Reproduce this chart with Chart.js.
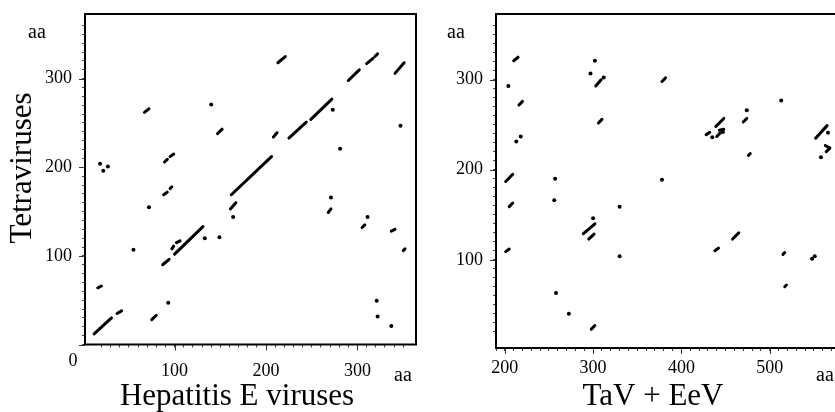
<!DOCTYPE html>
<html>
<head>
<meta charset="utf-8">
<script src="https://cdn.jsdelivr.net/npm/chart.js@4.4.1/dist/chart.umd.min.js"></script>
<style>
  html, body { margin: 0; padding: 0; background: #fff; overflow: hidden; }
  #wrap { position: relative; width: 835px; height: 412px; overflow: hidden; }
  #chart1 { position: absolute; left: 0; top: 0; }
  #chart2 { position: absolute; left: 420px; top: 0; }
</style>
</head>
<body>
<div id="wrap">
  <canvas id="chart1" width="420" height="412"></canvas>
  <canvas id="chart2" width="460" height="412"></canvas>
</div>
<script>
// dot-plot matches: segments are [x1, y1, x2, y2] in aa, dots are [x, y]
const hevSegments = [
    [12, 12, 31, 30], [37, 35, 42, 38], [16, 64, 20, 66], [75, 28, 80, 33],
    [87, 90, 94, 96], [97, 108, 99, 111], [102, 115, 106, 117], [100, 102, 131, 133],
    [161, 153, 167, 160], [162, 169, 206, 212], [208, 234, 212, 239], [225, 233, 244, 251],
    [249, 254, 272, 277], [290, 298, 302, 310], [310, 317, 317, 323], [319, 325, 322, 328],
    [341, 306, 351, 318], [213, 318, 221, 325], [147, 238, 152, 243], [67, 262, 72, 266],
    [89, 206, 92, 209], [95, 212, 99, 215], [88, 169, 92, 172], [95, 176, 97, 178],
    [268, 149, 271, 153], [305, 132, 308, 135], [337, 128, 341, 130], [350, 106, 352, 108]
];
const hevDots = [
    [55, 107], [93, 47], [133, 120], [149, 121], [164, 144], [273, 265], [281, 221],
    [347, 247], [140, 271], [18.5, 204], [22, 196], [27, 201], [72, 155], [271, 166],
    [311, 144], [321, 49.5], [322, 31.5], [337, 21]
];
const tavSegments = [
    [210, 321, 215, 325], [216, 272, 220, 276], [201, 187, 209, 195], [205, 159, 209, 163],
    [201, 109, 205, 112], [298, 23, 302, 27], [289, 129, 302, 140], [295, 123, 301, 128.5],
    [303, 293, 309, 300], [306, 252, 310, 256], [378, 298, 382, 302], [428, 239, 432, 241.5],
    [439, 248, 448, 257], [440, 237, 444, 241], [443, 244, 448, 245], [470, 253, 474, 257],
    [476, 216, 478, 218], [552, 235, 565, 249], [563, 227, 568, 224], [568, 224, 564, 220],
    [438, 110, 442, 113], [458, 123, 465, 130], [515, 106, 517, 108], [517, 70, 519, 72]
];
const tavDots = [
    [204, 293], [213, 231.5], [218, 237], [257, 190], [256, 166], [258, 63], [272.5, 40],
    [300, 146], [330, 159], [330, 104], [302, 321], [297, 307], [312, 302.5], [378, 189],
    [435, 236], [447, 242], [474, 266], [513, 277], [566, 241], [558, 214], [548, 101], [551, 104]
];
const majorStep = 100;
const minorStep = 10;

const serif = '"Liberation Serif", "Times New Roman", serif';

function buildDatasets(segments, dots) {
    const sets = segments.map(s => ({
        data: [{x: s[0], y: s[1]}, {x: s[2], y: s[3]}],
        showLine: true,
        borderColor: '#000',
        borderWidth: 3,
        borderCapStyle: 'round',
        pointRadius: 0
    }));
    sets.push({
        data: dots.map(d => ({x: d[0], y: d[1]})),
        pointRadius: 2,
        pointBackgroundColor: '#000',
        pointBorderWidth: 0
    });
    return sets;
}

function axis(min, max, size, horizontal, pad) {
    return {
        type: 'linear',
        min: min,
        max: max,
        ticks: {
            stepSize: minorStep,
            autoSkip: false,
            maxRotation: 0,
            color: '#000',
            padding: pad,
            font: {family: serif, size: 18},
            callback: v => (v % majorStep === 0 && v > 0) ? String(v) : ''
        },
        afterBuildTicks: a => { a.ticks = a.ticks.filter(t => t.value % minorStep === 0); },
        afterFit: s => {
            if (horizontal) s.height = size; else s.width = size;
            // layout padding alone decides where the plot frame goes
            s.paddingTop = s.paddingBottom = s.paddingLeft = s.paddingRight = 0;
        },
        grid: {drawOnChartArea: false, tickLength: 3, tickColor: '#444', tickWidth: 1},
        border: {display: false}
    };
}

// frame, longer major ticks and the free text labels
const decor = {
    id: 'decor',
    afterDraw(chart, args, opts) {
        const {ctx, chartArea: a} = chart;
        const xs = chart.scales.x, ys = chart.scales.y;
        ctx.save();
        ctx.strokeStyle = '#333';
        ctx.lineWidth = 1;
        xs.ticks.forEach(t => {
            if (t.value % majorStep !== 0) return;
            const p = Math.round(xs.getPixelForValue(t.value)) + 0.5;
            ctx.beginPath(); ctx.moveTo(p, a.bottom); ctx.lineTo(p, a.bottom + 6); ctx.stroke();
        });
        ys.ticks.forEach(t => {
            if (t.value % majorStep !== 0) return;
            const p = Math.round(ys.getPixelForValue(t.value)) + 0.5;
            ctx.beginPath(); ctx.moveTo(a.left, p); ctx.lineTo(a.left - 6, p); ctx.stroke();
        });
        ctx.strokeStyle = '#000';
        ctx.lineWidth = 2;
        ctx.strokeRect(a.left, a.top, a.right - a.left, a.bottom - a.top);
        ctx.fillStyle = '#000';
        ctx.textAlign = 'center';
        ctx.textBaseline = 'middle';
        opts.texts.forEach(t => {
            ctx.save();
            ctx.translate(t.x, t.y);
            if (t.rot) ctx.rotate(t.rot);
            ctx.font = t.size + 'px ' + serif;
            ctx.fillText(t.text, 0, 0);
            ctx.restore();
        });
        ctx.restore();
    }
};

document.addEventListener("DOMContentLoaded", function () {
    const ctx1 = document.getElementById('chart1').getContext('2d');
    const ctx2 = document.getElementById('chart2').getContext('2d');

    new Chart(ctx1, {
        type: 'scatter',
        data: { datasets: buildDatasets(hevSegments, hevDots) },
        options: {
            responsive: false,
            animation: false,
            events: [],
            layout: { padding: {top: 14, right: 3, left: 0, bottom: 0} },
            scales: {
                x: axis(2, 364, 67.5, true, 13),
                y: axis(0, 373, 85, false, 10)
            },
            plugins: {
                legend: { display: false },
                tooltip: { enabled: false },
                decor: {
                    texts: [
                        {text: 'Tetraviruses', x: 23, y: 168, size: 31, rot: -Math.PI / 2},
                        {text: 'Hepatitis E viruses', x: 237, y: 397, size: 31},
                        {text: 'aa', x: 37, y: 33, size: 20},
                        {text: 'aa', x: 403, y: 376, size: 20},
                        {text: '0', x: 73, y: 361, size: 18}
                    ]
                }
            }
        },
        plugins: [decor]
    });

    new Chart(ctx2, {
        type: 'scatter',
        data: { datasets: buildDatasets(tavSegments, tavDots) },
        options: {
            responsive: false,
            animation: false,
            events: [],
            layout: { padding: {top: 14, right: 22, left: 0, bottom: 0} },
            scales: {
                x: axis(190, 600, 64, true, 6),
                y: axis(2, 373, 76, false, 10)
            },
            plugins: {
                legend: { display: false },
                tooltip: { enabled: false },
                decor: {
                    texts: [
                        {text: 'TaV + EeV', x: 233, y: 397, size: 31},
                        {text: 'aa', x: 36, y: 33, size: 20},
                        {text: 'aa', x: 405, y: 376, size: 20}
                    ]
                }
            }
        },
        plugins: [decor]
    });
});
</script>
</body>
</html>
